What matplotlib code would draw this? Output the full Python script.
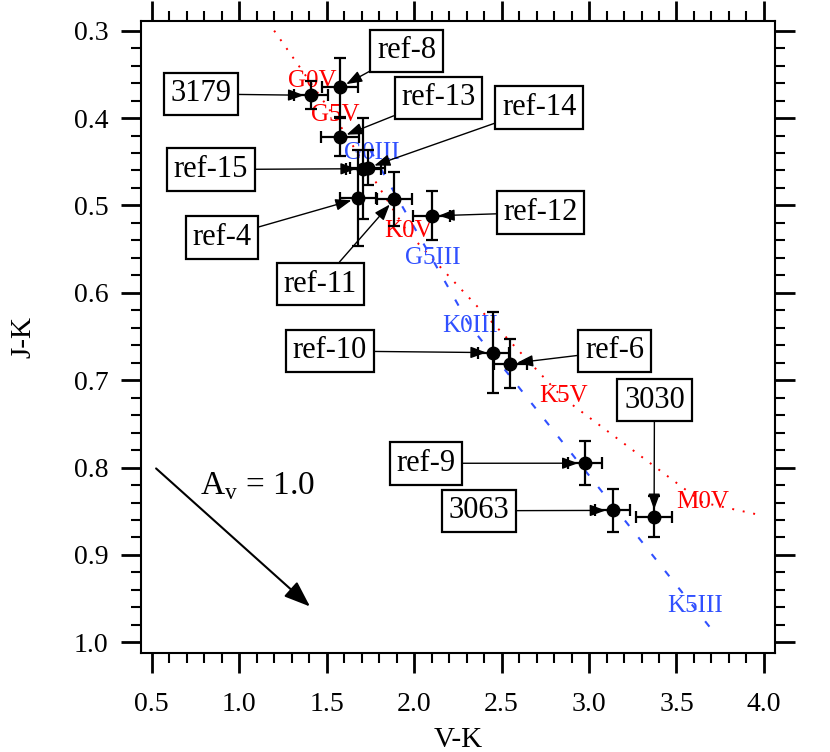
import matplotlib
matplotlib.use('Agg')
import matplotlib.pyplot as plt
from matplotlib.ticker import MultipleLocator, FormatStrFormatter

plt.rcParams['font.family'] = ['Liberation Serif', 'DejaVu Serif']
plt.rcParams['mathtext.fontset'] = 'custom'
plt.rcParams['mathtext.rm'] = 'Liberation Serif'

# measured stars
names = ['3179', 'ref-8', 'ref-13', 'ref-14', 'ref-15', 'ref-4', 'ref-11',
         'ref-12', 'ref-10', 'ref-6', 'ref-9', '3063', '3030']
vk = [1.41, 1.577, 1.577, 1.735, 1.71, 1.68, 1.887, 2.101, 2.453, 2.549, 2.977, 3.135, 3.372]
jk = [0.374, 0.365, 0.422, 0.457, 0.458, 0.492, 0.493, 0.512, 0.6685, 0.681, 0.795, 0.849, 0.856]
vk_err = [0.095, 0.105, 0.11, 0.10, 0.10, 0.105, 0.10, 0.105, 0.09, 0.095, 0.095, 0.10, 0.105]
jk_err = [0.016, 0.034, 0.022, 0.02, 0.058, 0.055, 0.031, 0.028, 0.046, 0.028, 0.025, 0.025, 0.024]

# label box centres (data coords)
box_x = [0.782, 1.958, 2.139, 2.716, 0.838, 0.902, 1.463, 2.723, 1.519, 3.146, 2.068, 2.373, 3.374]
box_y = [0.3725, 0.3232, 0.377, 0.388, 0.4589, 0.5367, 0.590, 0.508, 0.6666, 0.6666, 0.7951, 0.8494, 0.7227]

# dwarf sequence
dwarf_vk = [1.20, 1.41, 1.55, 1.96, 2.85, 3.65, 3.97]
dwarf_jk = [0.30, 0.36, 0.40, 0.53, 0.72, 0.84, 0.854]
dwarf_lab = ['G0V', 'G5V', 'K0V', 'K5V', 'M0V']
dwarf_lab_vk = [1.415, 1.551, 1.966, 2.853, 3.649]
dwarf_lab_jk = [0.358, 0.397, 0.529, 0.718, 0.839]

# giant sequence
giant_vk = [1.75, 2.10, 2.32, 3.70]
giant_jk = [0.437, 0.560, 0.638, 0.985]
giant_lab = ['G0III', 'G5III', 'K0III', 'K5III']
giant_lab_vk = [1.756, 2.105, 2.32, 3.606]
giant_lab_jk = [0.440, 0.560, 0.638, 0.958]

# reddening vector
red_vk = [0.525, 1.405]
red_jk = [0.801, 0.959]

RED = '#ff0000'
BLUE = '#3050ff'


def main():
    fig = plt.figure(figsize=(8.3, 7.52), dpi=100)
    ax = fig.add_axes([0.1695, 0.1320, 0.7642, 0.8405])

    ax.plot(dwarf_vk, dwarf_jk, color=RED, lw=1.4, ls=(0, (1, 4.5)), zorder=1)
    ax.plot(giant_vk, giant_jk, color=BLUE, lw=1.5, ls=(0, (3.3, 7)), zorder=1)

    for lab, x, y in zip(dwarf_lab, dwarf_lab_vk, dwarf_lab_jk):
        ax.text(x, y, lab, color=RED, fontsize=18, ha='center', va='center', zorder=2)
    for lab, x, y in zip(giant_lab, giant_lab_vk, giant_lab_jk):
        ax.text(x, y, lab, color=BLUE, fontsize=18, ha='center', va='center', zorder=2)

    ax.errorbar(vk, jk, xerr=vk_err, yerr=jk_err, fmt='o', color='black',
                ms=9, elinewidth=1.6, capsize=4.6, capthick=1.6, zorder=3)

    for name, x, y, bx, by in zip(names, vk, jk, box_x, box_y):
        ax.annotate(name, xy=(x, y), xytext=(bx, by), fontsize=22,
                    ha='center', va='center', zorder=5,
                    bbox=dict(boxstyle='square,pad=0.22', fc='white', ec='black', lw=1.6),
                    arrowprops=dict(arrowstyle='-|>,head_length=0.6,head_width=0.22',
                                    color='black', lw=1.0, shrinkA=0, shrinkB=5,
                                    mutation_scale=16))

    ax.annotate('', xy=(red_vk[1], red_jk[1]), xytext=(red_vk[0], red_jk[0]),
                arrowprops=dict(arrowstyle='-|>,head_length=0.8,head_width=0.3',
                                color='black', lw=1.5, shrinkA=0, shrinkB=0,
                                mutation_scale=20))
    ax.text(0.776, 0.8303, r'A$_\mathrm{v}$ = 1.0', fontsize=24, ha='left', va='baseline')

    ax.set_xlim(0.437, 4.063)
    ax.set_ylim(1.0119, 0.2886)
    ax.xaxis.set_major_locator(MultipleLocator(0.5))
    ax.xaxis.set_minor_locator(MultipleLocator(0.1))
    ax.yaxis.set_major_locator(MultipleLocator(0.1))
    ax.yaxis.set_minor_locator(MultipleLocator(0.02))
    ax.xaxis.set_major_formatter(FormatStrFormatter('%.1f'))
    ax.yaxis.set_major_formatter(FormatStrFormatter('%.1f'))

    ax.tick_params(which='both', direction='out', top=True, right=True, labelsize=20)
    ax.tick_params(axis='x', which='both', pad=14)
    ax.tick_params(axis='y', which='both', pad=9)
    ax.tick_params(which='major', length=14.4, width=2)
    ax.tick_params(which='minor', length=7.2, width=1.5)
    for sp in ax.spines.values():
        sp.set_linewidth(1.5)

    ax.set_xlabel('V-K', fontsize=21, labelpad=7)
    ax.set_ylabel('J-K', fontsize=21, labelpad=27)

    fig.savefig('out.png', dpi=100)


if __name__ == '__main__':
    main()
